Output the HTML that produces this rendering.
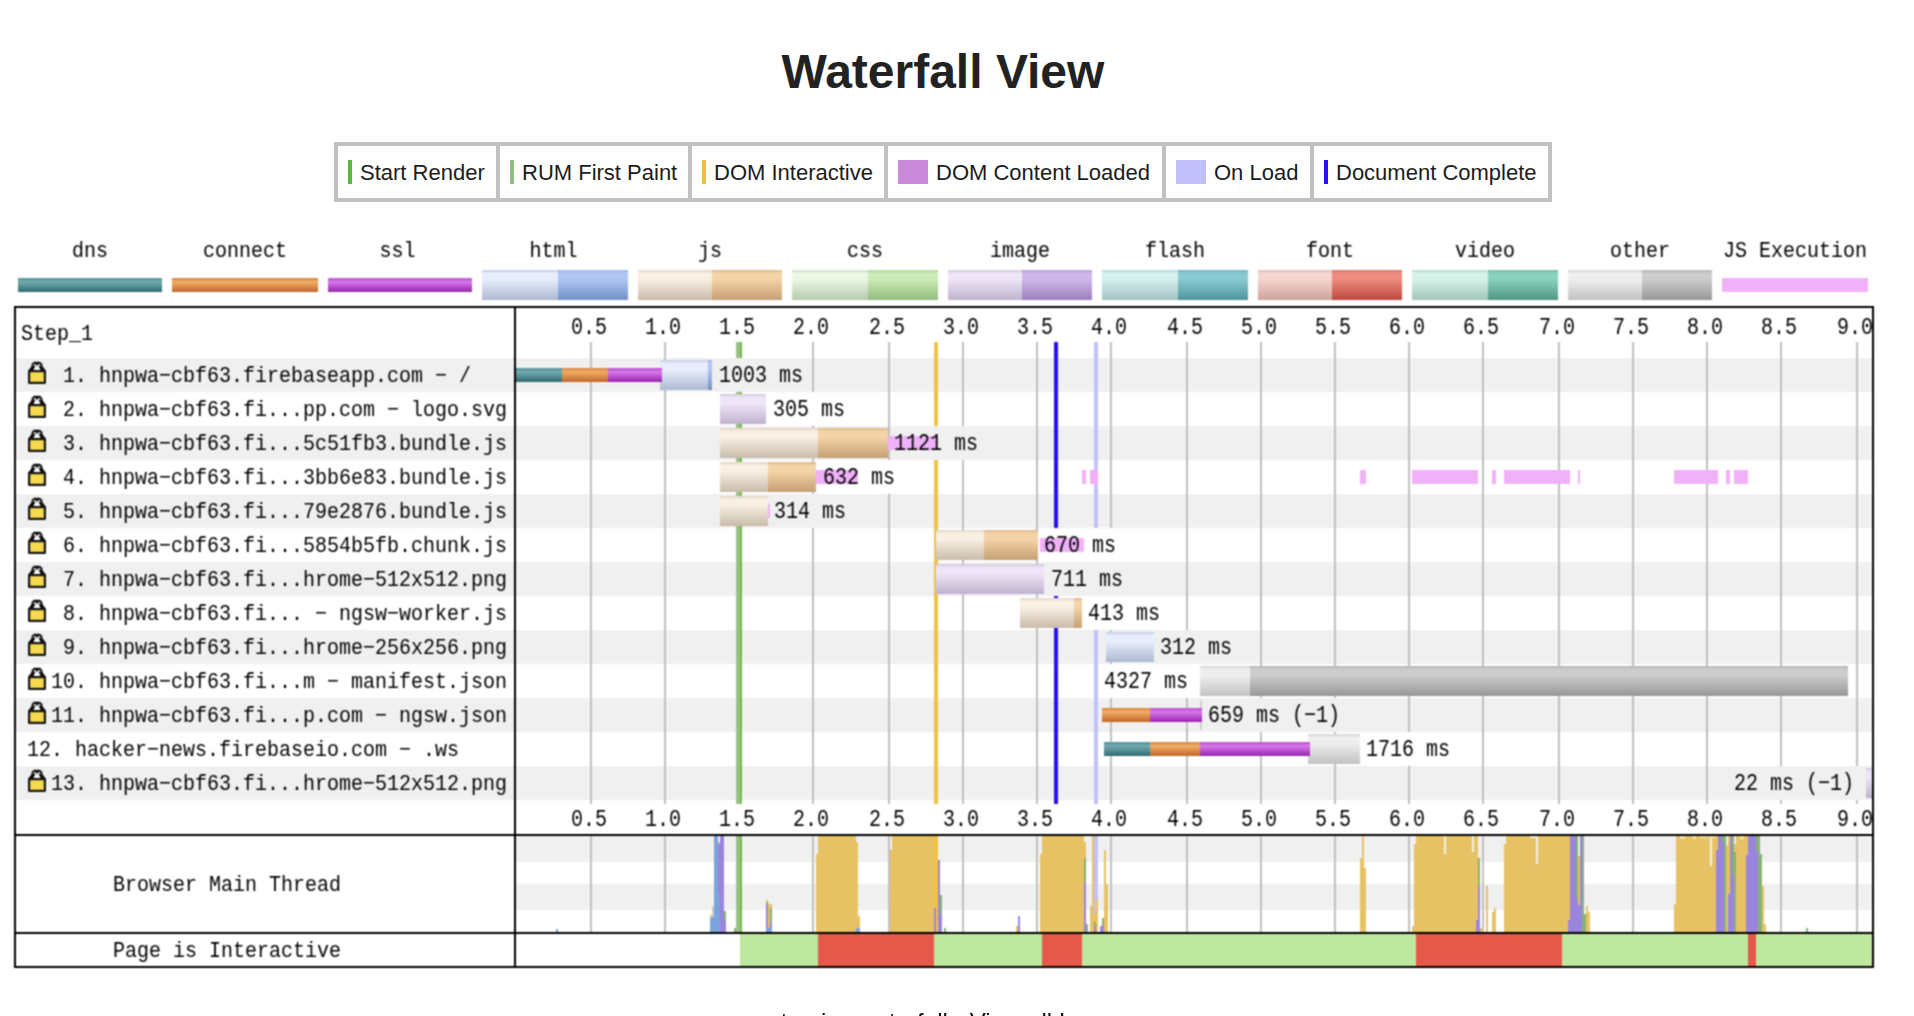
<!DOCTYPE html>
<html><head><meta charset="utf-8"><title>Waterfall View</title>
<style>
html,body{margin:0;padding:0;background:#fff;width:1914px;height:1016px;overflow:hidden}
#page{width:1914px;height:1016px;overflow:hidden;position:relative;font-family:"Liberation Sans", sans-serif;color:#222}
h1{position:absolute;left:0;top:44px;width:1886px;margin:0;text-align:center;font-size:48px;line-height:56px;font-weight:bold;color:#222}
#leg{position:absolute;left:334px;top:142px;width:1218px;height:60px;background:#c1c1c1}
#leg .c{position:absolute;top:4px;height:52px;background:#fff}
#leg i{position:absolute;top:14px;height:24px;display:block}
#leg span{position:absolute;top:14px;font-size:22px;line-height:26px;white-space:nowrap;color:#1c1c1c}
#wf{position:absolute;left:0;top:0;will-change:transform}
#wf text{font-family:"Liberation Mono", monospace}
#foot{position:absolute;left:0;top:1008px;width:1881px;letter-spacing:0.02px;text-align:center;font-size:24px;line-height:28px;color:#111}
</style></head><body><div id="page">
<h1>Waterfall View</h1>
<div id="leg"><div class="c" style="left:4px;width:158px"><i style="left:10px;width:4px;background:#5fb83e"></i><span style="left:22px">Start Render</span></div><div class="c" style="left:166px;width:188px"><i style="left:10px;width:4px;background:#90c081"></i><span style="left:22px">RUM First Paint</span></div><div class="c" style="left:358px;width:192px"><i style="left:10px;width:4px;background:#f0c244"></i><span style="left:22px">DOM Interactive</span></div><div class="c" style="left:554px;width:274px"><i style="left:10px;width:30px;background:#c989d8"></i><span style="left:48px">DOM Content Loaded</span></div><div class="c" style="left:832px;width:144px"><i style="left:10px;width:30px;background:#c1c0fa"></i><span style="left:48px">On Load</span></div><div class="c" style="left:980px;width:234px"><i style="left:10px;width:4px;background:#2b10f2"></i><span style="left:22px">Document Complete</span></div></div>
<svg id="wf" width="1914" height="1016" viewBox="0 0 1914 1016" shape-rendering="crispEdges">
<defs><linearGradient id="dns" x1="0" y1="0" x2="0" y2="1"><stop offset="0" stop-color="#5d979b"/><stop offset="0.1" stop-color="#5d979b"/><stop offset="0.22" stop-color="#6ea8ab"/><stop offset="0.32" stop-color="#6ea8ab"/><stop offset="1" stop-color="#2d6a71"/></linearGradient><linearGradient id="connect" x1="0" y1="0" x2="0" y2="1"><stop offset="0" stop-color="#dd8e49"/><stop offset="0.1" stop-color="#dd8e49"/><stop offset="0.22" stop-color="#efa963"/><stop offset="0.32" stop-color="#efa963"/><stop offset="1" stop-color="#bf6628"/></linearGradient><linearGradient id="ssl" x1="0" y1="0" x2="0" y2="1"><stop offset="0" stop-color="#c25ad3"/><stop offset="0.1" stop-color="#c25ad3"/><stop offset="0.22" stop-color="#d273e8"/><stop offset="0.32" stop-color="#d273e8"/><stop offset="1" stop-color="#9925ad"/></linearGradient><linearGradient id="htmlL" x1="0" y1="0" x2="0" y2="1"><stop offset="0" stop-color="#cbd5ea"/><stop offset="0.05" stop-color="#cbd5ea"/><stop offset="0.1" stop-color="#e8eefc"/><stop offset="0.3" stop-color="#e8eefc"/><stop offset="1" stop-color="#adb9d1"/></linearGradient><linearGradient id="htmlD" x1="0" y1="0" x2="0" y2="1"><stop offset="0" stop-color="#a6bbee"/><stop offset="0.05" stop-color="#a6bbee"/><stop offset="0.1" stop-color="#b1c6f3"/><stop offset="0.3" stop-color="#b1c6f3"/><stop offset="1" stop-color="#7290c7"/></linearGradient><linearGradient id="jsL" x1="0" y1="0" x2="0" y2="1"><stop offset="0" stop-color="#e6dccf"/><stop offset="0.05" stop-color="#e6dccf"/><stop offset="0.1" stop-color="#f9f0e4"/><stop offset="0.3" stop-color="#f9f0e4"/><stop offset="1" stop-color="#c8bba9"/></linearGradient><linearGradient id="jsD" x1="0" y1="0" x2="0" y2="1"><stop offset="0" stop-color="#e3c094"/><stop offset="0.05" stop-color="#e3c094"/><stop offset="0.1" stop-color="#f3d3a8"/><stop offset="0.3" stop-color="#f3d3a8"/><stop offset="1" stop-color="#c59f72"/></linearGradient><linearGradient id="cssL" x1="0" y1="0" x2="0" y2="1"><stop offset="0" stop-color="#d6e4d0"/><stop offset="0.05" stop-color="#d6e4d0"/><stop offset="0.1" stop-color="#ebf6e5"/><stop offset="0.3" stop-color="#ebf6e5"/><stop offset="1" stop-color="#b5ccac"/></linearGradient><linearGradient id="cssD" x1="0" y1="0" x2="0" y2="1"><stop offset="0" stop-color="#b9dba3"/><stop offset="0.05" stop-color="#b9dba3"/><stop offset="0.1" stop-color="#cdebb8"/><stop offset="0.3" stop-color="#cdebb8"/><stop offset="1" stop-color="#90bd7c"/></linearGradient><linearGradient id="imageL" x1="0" y1="0" x2="0" y2="1"><stop offset="0" stop-color="#d9d0e3"/><stop offset="0.05" stop-color="#d9d0e3"/><stop offset="0.1" stop-color="#eee6f7"/><stop offset="0.3" stop-color="#eee6f7"/><stop offset="1" stop-color="#bfb2cf"/></linearGradient><linearGradient id="imageD" x1="0" y1="0" x2="0" y2="1"><stop offset="0" stop-color="#bda3da"/><stop offset="0.05" stop-color="#bda3da"/><stop offset="0.1" stop-color="#cfb7ea"/><stop offset="0.3" stop-color="#cfb7ea"/><stop offset="1" stop-color="#9c7fbe"/></linearGradient><linearGradient id="flashL" x1="0" y1="0" x2="0" y2="1"><stop offset="0" stop-color="#c3dddd"/><stop offset="0.05" stop-color="#c3dddd"/><stop offset="0.1" stop-color="#d6efef"/><stop offset="0.3" stop-color="#d6efef"/><stop offset="1" stop-color="#a2c2c2"/></linearGradient><linearGradient id="flashD" x1="0" y1="0" x2="0" y2="1"><stop offset="0" stop-color="#79bac2"/><stop offset="0.05" stop-color="#79bac2"/><stop offset="0.1" stop-color="#8acad2"/><stop offset="0.3" stop-color="#8acad2"/><stop offset="1" stop-color="#4d959d"/></linearGradient><linearGradient id="fontL" x1="0" y1="0" x2="0" y2="1"><stop offset="0" stop-color="#e5c3bc"/><stop offset="0.05" stop-color="#e5c3bc"/><stop offset="0.1" stop-color="#f6d6d0"/><stop offset="0.3" stop-color="#f6d6d0"/><stop offset="1" stop-color="#cda29a"/></linearGradient><linearGradient id="fontD" x1="0" y1="0" x2="0" y2="1"><stop offset="0" stop-color="#e07a6e"/><stop offset="0.05" stop-color="#e07a6e"/><stop offset="0.1" stop-color="#ee8c80"/><stop offset="0.3" stop-color="#ee8c80"/><stop offset="1" stop-color="#bc483c"/></linearGradient><linearGradient id="videoL" x1="0" y1="0" x2="0" y2="1"><stop offset="0" stop-color="#c3dfd6"/><stop offset="0.05" stop-color="#c3dfd6"/><stop offset="0.1" stop-color="#d6f1e9"/><stop offset="0.3" stop-color="#d6f1e9"/><stop offset="1" stop-color="#a2c6ba"/></linearGradient><linearGradient id="videoD" x1="0" y1="0" x2="0" y2="1"><stop offset="0" stop-color="#79c2ad"/><stop offset="0.05" stop-color="#79c2ad"/><stop offset="0.1" stop-color="#8ad2bd"/><stop offset="0.3" stop-color="#8ad2bd"/><stop offset="1" stop-color="#4f9782"/></linearGradient><linearGradient id="otherL" x1="0" y1="0" x2="0" y2="1"><stop offset="0" stop-color="#dcdcdc"/><stop offset="0.05" stop-color="#dcdcdc"/><stop offset="0.1" stop-color="#efefef"/><stop offset="0.3" stop-color="#efefef"/><stop offset="1" stop-color="#c2c2c2"/></linearGradient><linearGradient id="otherD" x1="0" y1="0" x2="0" y2="1"><stop offset="0" stop-color="#bbbbbb"/><stop offset="0.05" stop-color="#bbbbbb"/><stop offset="0.1" stop-color="#cdcdcd"/><stop offset="0.3" stop-color="#cdcdcd"/><stop offset="1" stop-color="#979797"/></linearGradient><filter id="bl" filterUnits="userSpaceOnUse" x="0" y="0" width="1914" height="1016" color-interpolation-filters="sRGB"><feConvolveMatrix order="3" kernelMatrix="1 2 1 2 4 2 1 2 1" divisor="16" edgeMode="duplicate"/></filter></defs>
<g filter="url(#bl)">
<rect x="18" y="278" width="144" height="14" fill="url(#dns)"/>
<text transform="translate(90,257) scale(1,1.1)" text-anchor="middle" font-size="20" fill="#000" xml:space="preserve">dns</text>
<rect x="172" y="278" width="146" height="14" fill="url(#connect)"/>
<text transform="translate(245,257) scale(1,1.1)" text-anchor="middle" font-size="20" fill="#000" xml:space="preserve">connect</text>
<rect x="328" y="278" width="144" height="14" fill="url(#ssl)"/>
<text transform="translate(397.5,257) scale(1,1.1)" text-anchor="middle" font-size="20" fill="#000" xml:space="preserve">ssl</text>
<rect x="482" y="270" width="76" height="30" fill="url(#htmlL)"/>
<rect x="558" y="270" width="70" height="30" fill="url(#htmlD)"/>
<text transform="translate(553.5,257) scale(1,1.1)" text-anchor="middle" font-size="20" fill="#000" xml:space="preserve">html</text>
<rect x="638" y="270" width="74" height="30" fill="url(#jsL)"/>
<rect x="712" y="270" width="70" height="30" fill="url(#jsD)"/>
<text transform="translate(710,257) scale(1,1.1)" text-anchor="middle" font-size="20" fill="#000" xml:space="preserve">js</text>
<rect x="792" y="270" width="76" height="30" fill="url(#cssL)"/>
<rect x="868" y="270" width="70" height="30" fill="url(#cssD)"/>
<text transform="translate(865,257) scale(1,1.1)" text-anchor="middle" font-size="20" fill="#000" xml:space="preserve">css</text>
<rect x="948" y="270" width="74" height="30" fill="url(#imageL)"/>
<rect x="1022" y="270" width="70" height="30" fill="url(#imageD)"/>
<text transform="translate(1020,257) scale(1,1.1)" text-anchor="middle" font-size="20" fill="#000" xml:space="preserve">image</text>
<rect x="1102" y="270" width="76" height="30" fill="url(#flashL)"/>
<rect x="1178" y="270" width="70" height="30" fill="url(#flashD)"/>
<text transform="translate(1175,257) scale(1,1.1)" text-anchor="middle" font-size="20" fill="#000" xml:space="preserve">flash</text>
<rect x="1258" y="270" width="74" height="30" fill="url(#fontL)"/>
<rect x="1332" y="270" width="70" height="30" fill="url(#fontD)"/>
<text transform="translate(1330,257) scale(1,1.1)" text-anchor="middle" font-size="20" fill="#000" xml:space="preserve">font</text>
<rect x="1412" y="270" width="76" height="30" fill="url(#videoL)"/>
<rect x="1488" y="270" width="70" height="30" fill="url(#videoD)"/>
<text transform="translate(1485,257) scale(1,1.1)" text-anchor="middle" font-size="20" fill="#000" xml:space="preserve">video</text>
<rect x="1568" y="270" width="74" height="30" fill="url(#otherL)"/>
<rect x="1642" y="270" width="70" height="30" fill="url(#otherD)"/>
<text transform="translate(1640,257) scale(1,1.1)" text-anchor="middle" font-size="20" fill="#000" xml:space="preserve">other</text>
<rect x="1722" y="278" width="146" height="14" fill="#f0b1f8"/>
<text transform="translate(1795,257) scale(1,1.1)" text-anchor="middle" font-size="20" fill="#000" xml:space="preserve">JS Execution</text>
<rect x="14" y="306" width="1860" height="662" fill="#000"/>
<rect x="16" y="308" width="1856" height="658" fill="#fff"/>
<rect x="16" y="358" width="1856" height="34" fill="#f0f0f0"/>
<rect x="16" y="426" width="1856" height="34" fill="#f0f0f0"/>
<rect x="16" y="494" width="1856" height="34" fill="#f0f0f0"/>
<rect x="16" y="562" width="1856" height="34" fill="#f0f0f0"/>
<rect x="16" y="630" width="1856" height="34" fill="#f0f0f0"/>
<rect x="16" y="698" width="1856" height="34" fill="#f0f0f0"/>
<rect x="16" y="766" width="1856" height="34" fill="#f0f0f0"/>
<rect x="516" y="836" width="1356" height="26" fill="#f0f0f0"/>
<rect x="516" y="884" width="1356" height="26" fill="#f0f0f0"/>
<rect x="590" y="342" width="2" height="462" fill="#c0c0c0"/>
<rect x="590" y="836" width="2" height="96" fill="#c0c0c0"/>
<rect x="664" y="342" width="2" height="462" fill="#c0c0c0"/>
<rect x="664" y="836" width="2" height="96" fill="#c0c0c0"/>
<rect x="738" y="342" width="2" height="462" fill="#c0c0c0"/>
<rect x="738" y="836" width="2" height="96" fill="#c0c0c0"/>
<rect x="812" y="342" width="2" height="462" fill="#c0c0c0"/>
<rect x="812" y="836" width="2" height="96" fill="#c0c0c0"/>
<rect x="888" y="342" width="2" height="462" fill="#c0c0c0"/>
<rect x="888" y="836" width="2" height="96" fill="#c0c0c0"/>
<rect x="962" y="342" width="2" height="462" fill="#c0c0c0"/>
<rect x="962" y="836" width="2" height="96" fill="#c0c0c0"/>
<rect x="1036" y="342" width="2" height="462" fill="#c0c0c0"/>
<rect x="1036" y="836" width="2" height="96" fill="#c0c0c0"/>
<rect x="1110" y="342" width="2" height="462" fill="#c0c0c0"/>
<rect x="1110" y="836" width="2" height="96" fill="#c0c0c0"/>
<rect x="1186" y="342" width="2" height="462" fill="#c0c0c0"/>
<rect x="1186" y="836" width="2" height="96" fill="#c0c0c0"/>
<rect x="1260" y="342" width="2" height="462" fill="#c0c0c0"/>
<rect x="1260" y="836" width="2" height="96" fill="#c0c0c0"/>
<rect x="1334" y="342" width="2" height="462" fill="#c0c0c0"/>
<rect x="1334" y="836" width="2" height="96" fill="#c0c0c0"/>
<rect x="1408" y="342" width="2" height="462" fill="#c0c0c0"/>
<rect x="1408" y="836" width="2" height="96" fill="#c0c0c0"/>
<rect x="1482" y="342" width="2" height="462" fill="#c0c0c0"/>
<rect x="1482" y="836" width="2" height="96" fill="#c0c0c0"/>
<rect x="1558" y="342" width="2" height="462" fill="#c0c0c0"/>
<rect x="1558" y="836" width="2" height="96" fill="#c0c0c0"/>
<rect x="1632" y="342" width="2" height="462" fill="#c0c0c0"/>
<rect x="1632" y="836" width="2" height="96" fill="#c0c0c0"/>
<rect x="1706" y="342" width="2" height="462" fill="#c0c0c0"/>
<rect x="1706" y="836" width="2" height="96" fill="#c0c0c0"/>
<rect x="1780" y="342" width="2" height="462" fill="#c0c0c0"/>
<rect x="1780" y="836" width="2" height="96" fill="#c0c0c0"/>
<rect x="1856" y="342" width="2" height="462" fill="#c0c0c0"/>
<rect x="1856" y="836" width="2" height="96" fill="#c0c0c0"/>
<rect x="736" y="342" width="4" height="462" fill="#9cbf88"/>
<rect x="736" y="836" width="4" height="96" fill="#9cbf88"/>
<rect x="740" y="342" width="2" height="462" fill="#6fbb4b"/>
<rect x="740" y="836" width="2" height="96" fill="#6fbb4b"/>
<rect x="934" y="342" width="4" height="462" fill="#f0c244"/>
<rect x="934" y="836" width="4" height="96" fill="#f0c244"/>
<rect x="1094" y="342" width="4" height="462" fill="#c3c1fb"/>
<rect x="1094" y="836" width="4" height="96" fill="#c3c1fb"/>
<rect x="1054" y="342" width="4" height="462" fill="#2b10f2"/>
<rect x="1054" y="836" width="4" height="96" fill="#2b10f2"/>
<rect x="718" y="358" width="86" height="34" fill="#f0f0f0"/>
<rect x="772" y="392" width="74" height="34" fill="#fff"/>
<rect x="893" y="426" width="86" height="34" fill="#f0f0f0"/>
<rect x="822" y="460" width="74" height="34" fill="#fff"/>
<rect x="773" y="494" width="74" height="34" fill="#f0f0f0"/>
<rect x="1043" y="528" width="74" height="34" fill="#fff"/>
<rect x="1050" y="562" width="74" height="34" fill="#f0f0f0"/>
<rect x="1087" y="596" width="74" height="34" fill="#fff"/>
<rect x="1159" y="630" width="74" height="34" fill="#f0f0f0"/>
<rect x="1103" y="664" width="97" height="34" fill="#fff"/>
<rect x="1207" y="698" width="134" height="34" fill="#f0f0f0"/>
<rect x="1365" y="732" width="86" height="34" fill="#fff"/>
<rect x="1733" y="766" width="133" height="34" fill="#f0f0f0"/>
<rect x="660" y="360" width="48" height="30" fill="url(#htmlL)"/>
<rect x="708" y="360" width="4" height="30" fill="url(#htmlD)"/>
<rect x="516" y="368" width="46" height="14" fill="url(#dns)"/>
<rect x="562" y="368" width="46" height="14" fill="url(#connect)"/>
<rect x="608" y="368" width="53.5" height="14" fill="url(#ssl)"/>
<text transform="translate(719,382) scale(1,1.18)" text-anchor="start" font-size="20" fill="#000" xml:space="preserve">1003 ms</text>
<text transform="translate(51,382) scale(1,1.1)" text-anchor="start" font-size="20" fill="#000" xml:space="preserve"> 1. hnpwa−cbf63.firebaseapp.com − /</text>
<g shape-rendering="geometricPrecision"><path d="M28,371 L31.6,366 L31.6,364 L34,361.8 L40,361.8 L42.4,364 L42.4,366 L46,371 Z" fill="#0c0c0c"/><path d="M33,371 L35.4,366 L38.6,366 L41,371 Z" fill="#fcfcfc"/><rect x="33.6" y="364" width="2.4" height="2.2" fill="#b8b8b8"/><rect x="38" y="364" width="2.4" height="2.2" fill="#b8b8b8"/><rect x="36" y="365.2" width="2" height="1.2" fill="#d0d0d0"/><rect x="28" y="370" width="18" height="14" rx="1.2" fill="#141414"/><rect x="30.2" y="372.2" width="13.6" height="9.6" fill="#f5da4f"/></g>
<rect x="720" y="394" width="46" height="30" fill="url(#imageL)"/>
<text transform="translate(773,416) scale(1,1.18)" text-anchor="start" font-size="20" fill="#000" xml:space="preserve">305 ms</text>
<text transform="translate(51,416) scale(1,1.1)" text-anchor="start" font-size="20" fill="#000" xml:space="preserve"> 2. hnpwa−cbf63.fi...pp.com − logo.svg</text>
<g shape-rendering="geometricPrecision"><path d="M28,405 L31.6,400 L31.6,398 L34,395.8 L40,395.8 L42.4,398 L42.4,400 L46,405 Z" fill="#0c0c0c"/><path d="M33,405 L35.4,400 L38.6,400 L41,405 Z" fill="#fcfcfc"/><rect x="33.6" y="398" width="2.4" height="2.2" fill="#b8b8b8"/><rect x="38" y="398" width="2.4" height="2.2" fill="#b8b8b8"/><rect x="36" y="399.2" width="2" height="1.2" fill="#d0d0d0"/><rect x="28" y="404" width="18" height="14" rx="1.2" fill="#141414"/><rect x="30.2" y="406.2" width="13.6" height="9.6" fill="#f5da4f"/></g>
<rect x="720" y="428" width="98" height="30" fill="url(#jsL)"/>
<rect x="818" y="428" width="70" height="30" fill="url(#jsD)"/>
<rect x="888" y="436" width="50" height="14" fill="#f0b1f8"/>
<text transform="translate(894,450) scale(1,1.18)" text-anchor="start" font-size="20" fill="#000" xml:space="preserve">1121 ms</text>
<text transform="translate(51,450) scale(1,1.1)" text-anchor="start" font-size="20" fill="#000" xml:space="preserve"> 3. hnpwa−cbf63.fi...5c51fb3.bundle.js</text>
<g shape-rendering="geometricPrecision"><path d="M28,439 L31.6,434 L31.6,432 L34,429.8 L40,429.8 L42.4,432 L42.4,434 L46,439 Z" fill="#0c0c0c"/><path d="M33,439 L35.4,434 L38.6,434 L41,439 Z" fill="#fcfcfc"/><rect x="33.6" y="432" width="2.4" height="2.2" fill="#b8b8b8"/><rect x="38" y="432" width="2.4" height="2.2" fill="#b8b8b8"/><rect x="36" y="433.2" width="2" height="1.2" fill="#d0d0d0"/><rect x="28" y="438" width="18" height="14" rx="1.2" fill="#141414"/><rect x="30.2" y="440.2" width="13.6" height="9.6" fill="#f5da4f"/></g>
<rect x="720" y="462" width="48" height="30" fill="url(#jsL)"/>
<rect x="768" y="462" width="48" height="30" fill="url(#jsD)"/>
<rect x="816" y="470" width="42" height="14" fill="#f0b1f8"/>
<rect x="1082" y="470" width="4" height="14" fill="#f0b1f8"/>
<rect x="1090" y="470" width="8" height="14" fill="#f0b1f8"/>
<rect x="1360" y="470" width="6" height="14" fill="#f0b1f8"/>
<rect x="1412" y="470" width="66" height="14" fill="#f0b1f8"/>
<rect x="1492" y="470" width="4" height="14" fill="#f0b1f8"/>
<rect x="1504" y="470" width="66" height="14" fill="#f0b1f8"/>
<rect x="1578" y="470" width="2" height="14" fill="#f0b1f8"/>
<rect x="1674" y="470" width="44" height="14" fill="#f0b1f8"/>
<rect x="1726" y="470" width="4" height="14" fill="#f0b1f8"/>
<rect x="1734" y="470" width="14" height="14" fill="#f0b1f8"/>
<text transform="translate(823,484) scale(1,1.18)" text-anchor="start" font-size="20" fill="#000" xml:space="preserve">632 ms</text>
<text transform="translate(51,484) scale(1,1.1)" text-anchor="start" font-size="20" fill="#000" xml:space="preserve"> 4. hnpwa−cbf63.fi...3bb6e83.bundle.js</text>
<g shape-rendering="geometricPrecision"><path d="M28,473 L31.6,468 L31.6,466 L34,463.8 L40,463.8 L42.4,466 L42.4,468 L46,473 Z" fill="#0c0c0c"/><path d="M33,473 L35.4,468 L38.6,468 L41,473 Z" fill="#fcfcfc"/><rect x="33.6" y="466" width="2.4" height="2.2" fill="#b8b8b8"/><rect x="38" y="466" width="2.4" height="2.2" fill="#b8b8b8"/><rect x="36" y="467.2" width="2" height="1.2" fill="#d0d0d0"/><rect x="28" y="472" width="18" height="14" rx="1.2" fill="#141414"/><rect x="30.2" y="474.2" width="13.6" height="9.6" fill="#f5da4f"/></g>
<rect x="720" y="496" width="48" height="30" fill="url(#jsL)"/>
<rect x="768" y="504" width="2" height="14" fill="#f0b1f8"/>
<text transform="translate(774,518) scale(1,1.18)" text-anchor="start" font-size="20" fill="#000" xml:space="preserve">314 ms</text>
<text transform="translate(51,518) scale(1,1.1)" text-anchor="start" font-size="20" fill="#000" xml:space="preserve"> 5. hnpwa−cbf63.fi...79e2876.bundle.js</text>
<g shape-rendering="geometricPrecision"><path d="M28,507 L31.6,502 L31.6,500 L34,497.8 L40,497.8 L42.4,500 L42.4,502 L46,507 Z" fill="#0c0c0c"/><path d="M33,507 L35.4,502 L38.6,502 L41,507 Z" fill="#fcfcfc"/><rect x="33.6" y="500" width="2.4" height="2.2" fill="#b8b8b8"/><rect x="38" y="500" width="2.4" height="2.2" fill="#b8b8b8"/><rect x="36" y="501.2" width="2" height="1.2" fill="#d0d0d0"/><rect x="28" y="506" width="18" height="14" rx="1.2" fill="#141414"/><rect x="30.2" y="508.2" width="13.6" height="9.6" fill="#f5da4f"/></g>
<rect x="936" y="530" width="48" height="30" fill="url(#jsL)"/>
<rect x="984" y="530" width="54" height="30" fill="url(#jsD)"/>
<rect x="1040" y="538" width="44" height="14" fill="#f0b1f8"/>
<text transform="translate(1044,552) scale(1,1.18)" text-anchor="start" font-size="20" fill="#000" xml:space="preserve">670 ms</text>
<text transform="translate(51,552) scale(1,1.1)" text-anchor="start" font-size="20" fill="#000" xml:space="preserve"> 6. hnpwa−cbf63.fi...5854b5fb.chunk.js</text>
<g shape-rendering="geometricPrecision"><path d="M28,541 L31.6,536 L31.6,534 L34,531.8 L40,531.8 L42.4,534 L42.4,536 L46,541 Z" fill="#0c0c0c"/><path d="M33,541 L35.4,536 L38.6,536 L41,541 Z" fill="#fcfcfc"/><rect x="33.6" y="534" width="2.4" height="2.2" fill="#b8b8b8"/><rect x="38" y="534" width="2.4" height="2.2" fill="#b8b8b8"/><rect x="36" y="535.2" width="2" height="1.2" fill="#d0d0d0"/><rect x="28" y="540" width="18" height="14" rx="1.2" fill="#141414"/><rect x="30.2" y="542.2" width="13.6" height="9.6" fill="#f5da4f"/></g>
<rect x="936" y="564" width="108" height="30" fill="url(#imageL)"/>
<text transform="translate(1051,586) scale(1,1.18)" text-anchor="start" font-size="20" fill="#000" xml:space="preserve">711 ms</text>
<text transform="translate(51,586) scale(1,1.1)" text-anchor="start" font-size="20" fill="#000" xml:space="preserve"> 7. hnpwa−cbf63.fi...hrome−512x512.png</text>
<g shape-rendering="geometricPrecision"><path d="M28,575 L31.6,570 L31.6,568 L34,565.8 L40,565.8 L42.4,568 L42.4,570 L46,575 Z" fill="#0c0c0c"/><path d="M33,575 L35.4,570 L38.6,570 L41,575 Z" fill="#fcfcfc"/><rect x="33.6" y="568" width="2.4" height="2.2" fill="#b8b8b8"/><rect x="38" y="568" width="2.4" height="2.2" fill="#b8b8b8"/><rect x="36" y="569.2" width="2" height="1.2" fill="#d0d0d0"/><rect x="28" y="574" width="18" height="14" rx="1.2" fill="#141414"/><rect x="30.2" y="576.2" width="13.6" height="9.6" fill="#f5da4f"/></g>
<rect x="1020" y="598" width="54" height="30" fill="url(#jsL)"/>
<rect x="1074" y="598" width="8" height="30" fill="url(#jsD)"/>
<text transform="translate(1088,620) scale(1,1.18)" text-anchor="start" font-size="20" fill="#000" xml:space="preserve">413 ms</text>
<text transform="translate(51,620) scale(1,1.1)" text-anchor="start" font-size="20" fill="#000" xml:space="preserve"> 8. hnpwa−cbf63.fi... − ngsw−worker.js</text>
<g shape-rendering="geometricPrecision"><path d="M28,609 L31.6,604 L31.6,602 L34,599.8 L40,599.8 L42.4,602 L42.4,604 L46,609 Z" fill="#0c0c0c"/><path d="M33,609 L35.4,604 L38.6,604 L41,609 Z" fill="#fcfcfc"/><rect x="33.6" y="602" width="2.4" height="2.2" fill="#b8b8b8"/><rect x="38" y="602" width="2.4" height="2.2" fill="#b8b8b8"/><rect x="36" y="603.2" width="2" height="1.2" fill="#d0d0d0"/><rect x="28" y="608" width="18" height="14" rx="1.2" fill="#141414"/><rect x="30.2" y="610.2" width="13.6" height="9.6" fill="#f5da4f"/></g>
<rect x="1106" y="632" width="48" height="30" fill="url(#htmlL)"/>
<text transform="translate(1160,654) scale(1,1.18)" text-anchor="start" font-size="20" fill="#000" xml:space="preserve">312 ms</text>
<text transform="translate(51,654) scale(1,1.1)" text-anchor="start" font-size="20" fill="#000" xml:space="preserve"> 9. hnpwa−cbf63.fi...hrome−256x256.png</text>
<g shape-rendering="geometricPrecision"><path d="M28,643 L31.6,638 L31.6,636 L34,633.8 L40,633.8 L42.4,636 L42.4,638 L46,643 Z" fill="#0c0c0c"/><path d="M33,643 L35.4,638 L38.6,638 L41,643 Z" fill="#fcfcfc"/><rect x="33.6" y="636" width="2.4" height="2.2" fill="#b8b8b8"/><rect x="38" y="636" width="2.4" height="2.2" fill="#b8b8b8"/><rect x="36" y="637.2" width="2" height="1.2" fill="#d0d0d0"/><rect x="28" y="642" width="18" height="14" rx="1.2" fill="#141414"/><rect x="30.2" y="644.2" width="13.6" height="9.6" fill="#f5da4f"/></g>
<rect x="1200" y="666" width="50" height="30" fill="url(#otherL)"/>
<rect x="1250" y="666" width="598" height="30" fill="url(#otherD)"/>
<text transform="translate(1104,688) scale(1,1.18)" text-anchor="start" font-size="20" fill="#000" xml:space="preserve">4327 ms</text>
<text transform="translate(51,688) scale(1,1.1)" text-anchor="start" font-size="20" fill="#000" xml:space="preserve">10. hnpwa−cbf63.fi...m − manifest.json</text>
<g shape-rendering="geometricPrecision"><path d="M28,677 L31.6,672 L31.6,670 L34,667.8 L40,667.8 L42.4,670 L42.4,672 L46,677 Z" fill="#0c0c0c"/><path d="M33,677 L35.4,672 L38.6,672 L41,677 Z" fill="#fcfcfc"/><rect x="33.6" y="670" width="2.4" height="2.2" fill="#b8b8b8"/><rect x="38" y="670" width="2.4" height="2.2" fill="#b8b8b8"/><rect x="36" y="671.2" width="2" height="1.2" fill="#d0d0d0"/><rect x="28" y="676" width="18" height="14" rx="1.2" fill="#141414"/><rect x="30.2" y="678.2" width="13.6" height="9.6" fill="#f5da4f"/></g>
<rect x="1200" y="700" width="2" height="30" fill="#cfcfcf"/>
<rect x="1102" y="708" width="48" height="14" fill="url(#connect)"/>
<rect x="1150" y="708" width="52" height="14" fill="url(#ssl)"/>
<text transform="translate(1208,722) scale(1,1.18)" text-anchor="start" font-size="20" fill="#000" xml:space="preserve">659 ms (−1)</text>
<text transform="translate(51,722) scale(1,1.1)" text-anchor="start" font-size="20" fill="#000" xml:space="preserve">11. hnpwa−cbf63.fi...p.com − ngsw.json</text>
<g shape-rendering="geometricPrecision"><path d="M28,711 L31.6,706 L31.6,704 L34,701.8 L40,701.8 L42.4,704 L42.4,706 L46,711 Z" fill="#0c0c0c"/><path d="M33,711 L35.4,706 L38.6,706 L41,711 Z" fill="#fcfcfc"/><rect x="33.6" y="704" width="2.4" height="2.2" fill="#b8b8b8"/><rect x="38" y="704" width="2.4" height="2.2" fill="#b8b8b8"/><rect x="36" y="705.2" width="2" height="1.2" fill="#d0d0d0"/><rect x="28" y="710" width="18" height="14" rx="1.2" fill="#141414"/><rect x="30.2" y="712.2" width="13.6" height="9.6" fill="#f5da4f"/></g>
<rect x="1308" y="734" width="52" height="30" fill="url(#otherL)"/>
<rect x="1104" y="742" width="46" height="14" fill="url(#dns)"/>
<rect x="1150" y="742" width="50" height="14" fill="url(#connect)"/>
<rect x="1200" y="742" width="110" height="14" fill="url(#ssl)"/>
<text transform="translate(1366,756) scale(1,1.18)" text-anchor="start" font-size="20" fill="#000" xml:space="preserve">1716 ms</text>
<text transform="translate(27,756) scale(1,1.1)" text-anchor="start" font-size="20" fill="#000" xml:space="preserve">12. hacker−news.firebaseio.com − .ws</text>
<rect x="1866" y="768" width="6" height="30" fill="url(#imageL)"/>
<text transform="translate(1734,790) scale(1,1.18)" text-anchor="start" font-size="20" fill="#000" xml:space="preserve">22 ms (−1)</text>
<text transform="translate(51,790) scale(1,1.1)" text-anchor="start" font-size="20" fill="#000" xml:space="preserve">13. hnpwa−cbf63.fi...hrome−512x512.png</text>
<g shape-rendering="geometricPrecision"><path d="M28,779 L31.6,774 L31.6,772 L34,769.8 L40,769.8 L42.4,772 L42.4,774 L46,779 Z" fill="#0c0c0c"/><path d="M33,779 L35.4,774 L38.6,774 L41,779 Z" fill="#fcfcfc"/><rect x="33.6" y="772" width="2.4" height="2.2" fill="#b8b8b8"/><rect x="38" y="772" width="2.4" height="2.2" fill="#b8b8b8"/><rect x="36" y="773.2" width="2" height="1.2" fill="#d0d0d0"/><rect x="28" y="778" width="18" height="14" rx="1.2" fill="#141414"/><rect x="30.2" y="780.2" width="13.6" height="9.6" fill="#f5da4f"/></g>
<text transform="translate(21,340) scale(1,1.1)" text-anchor="start" font-size="20" fill="#000" xml:space="preserve">Step_1</text>
<clipPath id="cc"><rect x="516" y="308" width="1356" height="660"/></clipPath>
<g clip-path="url(#cc)">
<text transform="translate(589,334) scale(1,1.21)" text-anchor="middle" font-size="20" fill="#000" xml:space="preserve">0.5</text>
<text transform="translate(589,826) scale(1,1.21)" text-anchor="middle" font-size="20" fill="#000" xml:space="preserve">0.5</text>
<text transform="translate(663,334) scale(1,1.21)" text-anchor="middle" font-size="20" fill="#000" xml:space="preserve">1.0</text>
<text transform="translate(663,826) scale(1,1.21)" text-anchor="middle" font-size="20" fill="#000" xml:space="preserve">1.0</text>
<text transform="translate(737,334) scale(1,1.21)" text-anchor="middle" font-size="20" fill="#000" xml:space="preserve">1.5</text>
<text transform="translate(737,826) scale(1,1.21)" text-anchor="middle" font-size="20" fill="#000" xml:space="preserve">1.5</text>
<text transform="translate(811,334) scale(1,1.21)" text-anchor="middle" font-size="20" fill="#000" xml:space="preserve">2.0</text>
<text transform="translate(811,826) scale(1,1.21)" text-anchor="middle" font-size="20" fill="#000" xml:space="preserve">2.0</text>
<text transform="translate(887,334) scale(1,1.21)" text-anchor="middle" font-size="20" fill="#000" xml:space="preserve">2.5</text>
<text transform="translate(887,826) scale(1,1.21)" text-anchor="middle" font-size="20" fill="#000" xml:space="preserve">2.5</text>
<text transform="translate(961,334) scale(1,1.21)" text-anchor="middle" font-size="20" fill="#000" xml:space="preserve">3.0</text>
<text transform="translate(961,826) scale(1,1.21)" text-anchor="middle" font-size="20" fill="#000" xml:space="preserve">3.0</text>
<text transform="translate(1035,334) scale(1,1.21)" text-anchor="middle" font-size="20" fill="#000" xml:space="preserve">3.5</text>
<text transform="translate(1035,826) scale(1,1.21)" text-anchor="middle" font-size="20" fill="#000" xml:space="preserve">3.5</text>
<text transform="translate(1109,334) scale(1,1.21)" text-anchor="middle" font-size="20" fill="#000" xml:space="preserve">4.0</text>
<text transform="translate(1109,826) scale(1,1.21)" text-anchor="middle" font-size="20" fill="#000" xml:space="preserve">4.0</text>
<text transform="translate(1185,334) scale(1,1.21)" text-anchor="middle" font-size="20" fill="#000" xml:space="preserve">4.5</text>
<text transform="translate(1185,826) scale(1,1.21)" text-anchor="middle" font-size="20" fill="#000" xml:space="preserve">4.5</text>
<text transform="translate(1259,334) scale(1,1.21)" text-anchor="middle" font-size="20" fill="#000" xml:space="preserve">5.0</text>
<text transform="translate(1259,826) scale(1,1.21)" text-anchor="middle" font-size="20" fill="#000" xml:space="preserve">5.0</text>
<text transform="translate(1333,334) scale(1,1.21)" text-anchor="middle" font-size="20" fill="#000" xml:space="preserve">5.5</text>
<text transform="translate(1333,826) scale(1,1.21)" text-anchor="middle" font-size="20" fill="#000" xml:space="preserve">5.5</text>
<text transform="translate(1407,334) scale(1,1.21)" text-anchor="middle" font-size="20" fill="#000" xml:space="preserve">6.0</text>
<text transform="translate(1407,826) scale(1,1.21)" text-anchor="middle" font-size="20" fill="#000" xml:space="preserve">6.0</text>
<text transform="translate(1481,334) scale(1,1.21)" text-anchor="middle" font-size="20" fill="#000" xml:space="preserve">6.5</text>
<text transform="translate(1481,826) scale(1,1.21)" text-anchor="middle" font-size="20" fill="#000" xml:space="preserve">6.5</text>
<text transform="translate(1557,334) scale(1,1.21)" text-anchor="middle" font-size="20" fill="#000" xml:space="preserve">7.0</text>
<text transform="translate(1557,826) scale(1,1.21)" text-anchor="middle" font-size="20" fill="#000" xml:space="preserve">7.0</text>
<text transform="translate(1631,334) scale(1,1.21)" text-anchor="middle" font-size="20" fill="#000" xml:space="preserve">7.5</text>
<text transform="translate(1631,826) scale(1,1.21)" text-anchor="middle" font-size="20" fill="#000" xml:space="preserve">7.5</text>
<text transform="translate(1705,334) scale(1,1.21)" text-anchor="middle" font-size="20" fill="#000" xml:space="preserve">8.0</text>
<text transform="translate(1705,826) scale(1,1.21)" text-anchor="middle" font-size="20" fill="#000" xml:space="preserve">8.0</text>
<text transform="translate(1779,334) scale(1,1.21)" text-anchor="middle" font-size="20" fill="#000" xml:space="preserve">8.5</text>
<text transform="translate(1779,826) scale(1,1.21)" text-anchor="middle" font-size="20" fill="#000" xml:space="preserve">8.5</text>
<text transform="translate(1855,334) scale(1,1.21)" text-anchor="middle" font-size="20" fill="#000" xml:space="preserve">9.0</text>
<text transform="translate(1855,826) scale(1,1.21)" text-anchor="middle" font-size="20" fill="#000" xml:space="preserve">9.0</text>
</g>
<rect x="714" y="836" width="4" height="96" fill="#7ba3dc"/>
<rect x="718" y="842" width="2" height="2" fill="#e6c265"/>
<rect x="718" y="844" width="2" height="49" fill="#9b84de"/>
<rect x="718" y="893" width="2" height="39" fill="#7ba3dc"/>
<rect x="720" y="836" width="4" height="96" fill="#9b84de"/>
<rect x="710" y="917" width="4" height="15" fill="#7ba3dc"/>
<rect x="712" y="906" width="2" height="11" fill="#c9c9c9"/>
<rect x="710" y="915" width="2" height="3" fill="#e6c265"/>
<rect x="724" y="911" width="2" height="10" fill="#84b470"/>
<rect x="724" y="921" width="2" height="11" fill="#9b84de"/>
<rect x="734" y="928" width="2" height="4" fill="#84b470"/>
<rect x="556" y="929" width="2" height="3" fill="#7ba3dc"/>
<rect x="766" y="904" width="2" height="28" fill="#9b84de"/>
<rect x="766" y="900" width="2" height="2" fill="#e6c265"/>
<rect x="766" y="902" width="2" height="2" fill="#84b470"/>
<rect x="768" y="904" width="4" height="28" fill="#e6c265"/>
<rect x="770" y="908" width="2" height="14" fill="#84b470"/>
<rect x="770" y="922" width="2" height="10" fill="#9b84de"/>
<rect x="766" y="928" width="6" height="4" fill="#7ba3dc"/>
<rect x="818" y="836" width="38" height="96" fill="#e6c265"/>
<rect x="816" y="854" width="2" height="78" fill="#e6c265"/>
<rect x="856" y="842" width="2" height="90" fill="#e6c265"/>
<rect x="858" y="916" width="2" height="16" fill="#e6c265"/>
<rect x="856" y="928" width="4" height="4" fill="#7ba3dc"/>
<rect x="892" y="836" width="42" height="96" fill="#e6c265"/>
<rect x="890" y="850" width="2" height="82" fill="#e6c265"/>
<rect x="934" y="836" width="4" height="96" fill="#f0c244"/>
<rect x="938" y="860" width="2" height="72" fill="#9b84de"/>
<rect x="934" y="908" width="2" height="24" fill="#9b84de"/>
<rect x="940" y="914" width="2" height="18" fill="#9b84de"/>
<rect x="940" y="895" width="2" height="19" fill="#84b470"/>
<rect x="944" y="928" width="2" height="4" fill="#84b470"/>
<rect x="1016" y="926" width="2" height="6" fill="#e6c265"/>
<rect x="1018" y="916" width="2" height="16" fill="#9b84de"/>
<rect x="1042" y="836" width="42" height="96" fill="#e6c265"/>
<rect x="1040" y="854" width="2" height="78" fill="#e6c265"/>
<rect x="1084" y="842" width="2" height="16" fill="#e6c265"/>
<rect x="1084" y="858" width="2" height="24" fill="#84b470"/>
<rect x="1084" y="882" width="2" height="50" fill="#9b84de"/>
<rect x="1086" y="924" width="2" height="8" fill="#84b470"/>
<rect x="1092" y="836" width="2" height="96" fill="#e6c265"/>
<rect x="1090" y="906" width="2" height="26" fill="#e6c265"/>
<rect x="1096" y="900" width="2" height="32" fill="#e6c265"/>
<rect x="1094" y="914" width="2" height="18" fill="#e6c265"/>
<rect x="1094" y="922" width="2" height="4" fill="#84b470"/>
<rect x="1094" y="926" width="2" height="6" fill="#9b84de"/>
<rect x="1104" y="850" width="2" height="82" fill="#e6c265"/>
<rect x="1106" y="884" width="2" height="48" fill="#e6c265"/>
<rect x="1102" y="918" width="2" height="8" fill="#84b470"/>
<rect x="1100" y="926" width="4" height="6" fill="#9b84de"/>
<rect x="1362" y="836" width="2" height="96" fill="#e6c265"/>
<rect x="1360" y="858" width="2" height="74" fill="#e6c265"/>
<rect x="1364" y="868" width="2" height="64" fill="#e6c265"/>
<rect x="1416" y="836" width="62" height="96" fill="#e6c265"/>
<rect x="1414" y="844" width="2" height="88" fill="#e6c265"/>
<rect x="1412" y="926" width="2" height="6" fill="#e6c265"/>
<rect x="1444" y="836" width="2" height="18" fill="#f3f0e6"/>
<rect x="1472" y="836" width="2" height="16" fill="#f3f0e6"/>
<rect x="1478" y="858" width="2" height="28" fill="#84b470"/>
<rect x="1478" y="886" width="2" height="46" fill="#9b84de"/>
<rect x="1476" y="920" width="2" height="12" fill="#9b84de"/>
<rect x="1480" y="928" width="2" height="4" fill="#e6c265"/>
<rect x="1486" y="886" width="2" height="46" fill="#e6c265"/>
<rect x="1492" y="912" width="2" height="20" fill="#e6c265"/>
<rect x="1494" y="908" width="2" height="24" fill="#e6c265"/>
<rect x="1506" y="836" width="64" height="96" fill="#e6c265"/>
<rect x="1504" y="844" width="2" height="88" fill="#e6c265"/>
<rect x="1536" y="838" width="2" height="26" fill="#f3f0e6"/>
<rect x="1530" y="836" width="8" height="2" fill="#f3f0e6"/>
<rect x="1570" y="836" width="6" height="96" fill="#9b84de"/>
<rect x="1568" y="920" width="2" height="12" fill="#9b84de"/>
<rect x="1576" y="898" width="4" height="34" fill="#9b84de"/>
<rect x="1580" y="920" width="5" height="12" fill="#9b84de"/>
<rect x="1576" y="836" width="2" height="62" fill="#84b470"/>
<rect x="1578" y="856" width="2" height="49" fill="#e6c265"/>
<rect x="1580" y="836" width="2" height="84" fill="#9b84de"/>
<rect x="1582" y="836" width="2" height="96" fill="#84b470"/>
<rect x="1584" y="914" width="2" height="18" fill="#84b470"/>
<rect x="1586" y="906" width="2" height="26" fill="#e6c265"/>
<rect x="1588" y="912" width="2" height="20" fill="#e6c265"/>
<rect x="1676" y="836" width="42" height="96" fill="#e6c265"/>
<rect x="1674" y="904" width="2" height="28" fill="#e6c265"/>
<rect x="1710" y="836" width="2" height="30" fill="#f3f0e6"/>
<rect x="1680" y="836" width="5" height="3" fill="#f1e3b6"/>
<rect x="1693" y="836" width="3" height="3" fill="#f1e3b6"/>
<rect x="1700" y="836" width="16" height="2" fill="#efdca0"/>
<rect x="1706" y="836" width="2" height="5" fill="#d9cfae"/>
<rect x="1716" y="850" width="2" height="82" fill="#9b84de"/>
<rect x="1718" y="836" width="6" height="96" fill="#9b84de"/>
<rect x="1722" y="836" width="4" height="6" fill="#84b470"/>
<rect x="1724" y="842" width="2" height="90" fill="#84b470"/>
<rect x="1726" y="845" width="2" height="87" fill="#e6c265"/>
<rect x="1728" y="836" width="2" height="58" fill="#e6c265"/>
<rect x="1728" y="894" width="2" height="38" fill="#9b84de"/>
<rect x="1730" y="836" width="2" height="96" fill="#9b84de"/>
<rect x="1732" y="836" width="2" height="39" fill="#84b470"/>
<rect x="1732" y="875" width="2" height="57" fill="#9b84de"/>
<rect x="1734" y="844" width="2" height="8" fill="#e6c265"/>
<rect x="1734" y="852" width="2" height="80" fill="#84b470"/>
<rect x="1736" y="836" width="12" height="96" fill="#e6c265"/>
<rect x="1740" y="836" width="4" height="3" fill="#f1e3b6"/>
<rect x="1748" y="836" width="8" height="96" fill="#9b84de"/>
<rect x="1746" y="855" width="2" height="77" fill="#9b84de"/>
<rect x="1756" y="851" width="2" height="81" fill="#9b84de"/>
<rect x="1756" y="836" width="4" height="15" fill="#84b470"/>
<rect x="1758" y="851" width="2" height="81" fill="#84b470"/>
<rect x="1760" y="854" width="2" height="78" fill="#84b470"/>
<rect x="1762" y="886" width="2" height="46" fill="#e6c265"/>
<rect x="1764" y="924" width="2" height="8" fill="#e6c265"/>
<rect x="1806" y="928" width="2" height="4" fill="#84b470"/>
<rect x="740" y="934" width="78" height="32" fill="#bfe89f"/>
<rect x="818" y="934" width="116" height="32" fill="#e5584a"/>
<rect x="934" y="934" width="108" height="32" fill="#bfe89f"/>
<rect x="1042" y="934" width="40" height="32" fill="#e5584a"/>
<rect x="1082" y="934" width="334" height="32" fill="#bfe89f"/>
<rect x="1416" y="934" width="146" height="32" fill="#e5584a"/>
<rect x="1562" y="934" width="186" height="32" fill="#bfe89f"/>
<rect x="1748" y="934" width="8" height="32" fill="#e5584a"/>
<rect x="1756" y="934" width="116" height="32" fill="#bfe89f"/>
<rect x="514" y="306" width="2" height="662" fill="#000"/>
<rect x="14" y="834" width="1860" height="2" fill="#000"/>
<rect x="14" y="932" width="1860" height="2" fill="#000"/>
<text transform="translate(113,891) scale(1,1.1)" text-anchor="start" font-size="20" fill="#000" xml:space="preserve">Browser Main Thread</text>
<text transform="translate(113,957) scale(1,1.1)" text-anchor="start" font-size="20" fill="#000" xml:space="preserve">Page is Interactive</text>
</g>
</svg>
<div id="foot">customize waterfall &bull; View all Images</div>
</div></body></html>
